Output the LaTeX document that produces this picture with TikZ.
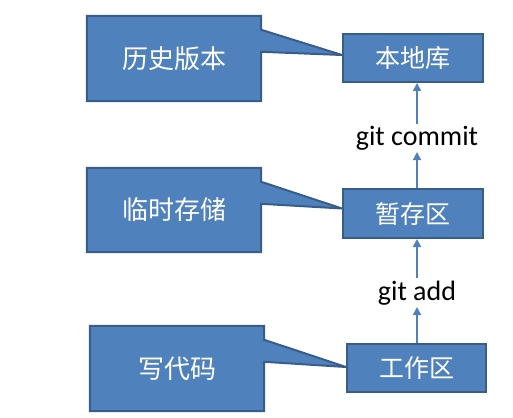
\documentclass[tikz,border=0pt]{standalone}
\usepackage{fontspec}
\setmainfont{Carlito}
\newfontfamily\cjk{Noto Sans CJK SC}
\usetikzlibrary{arrows.meta,backgrounds}
\definecolor{boxfill}{HTML}{4F81BD}
\definecolor{boxline}{HTML}{385D8A}

\begin{document}
\begin{tikzpicture}[x=1pt,y=-1pt,
    area/.style={draw=boxline,line width=2pt,fill=boxfill,text=white,
      font=\cjk\fontsize{25}{28}\selectfont,minimum width=140pt,minimum height=48pt,inner sep=0},
    note/.style={text=white,font=\cjk\fontsize{26}{30}\selectfont,
      minimum width=174pt,minimum height=85pt,inner sep=0},
    bubble/.style={draw=boxline,line width=2pt,fill=boxfill,line join=miter},
    cmd/.style={font=\fontsize{28}{32}\selectfont,anchor=base,inner sep=2pt},
    flow/.style={draw=boxfill,line width=1.6pt,-{Triangle[length=8pt,width=8pt]}}]
    \useasboundingbox (0,0) rectangle (513,417);

    \node[area] (lib) at (413,58) {本地库};
    \node[area,minimum height=49pt] (stage) at (413,213.5) {暂存区};
    \node[area,minimum width=139pt] (work) at (416.5,368) {工作区};

    \node[note] (hist) at (174,58.5) {历史版本};
    \node[note,minimum height=84pt] (tmp) at (174,210) {临时存储};
    \node[note] (code) at (177,368.5) {写代码};

    \node[cmd] (commit) at (417,145) {git commit};
    \node[cmd] (add) at (417,300) {git add};

    \begin{scope}[on background layer]
      \foreach \n/\t/\s in {hist/lib/3,tmp/stage/5,code/work/1} {
        \path[bubble] (\n.north west) -- (\n.north east) -- ([yshift=-14pt]\n.north east)
          -- ([yshift=\s pt]\t.west) -- ([yshift=-36pt]\n.north east)
          -- (\n.south east) -- (\n.south west) -- cycle;
      }
    \end{scope}

    \draw[flow] (work.north -| add) -- (add);
    \draw[flow] (add) -- (stage.south -| add);
    \draw[flow] (stage.north -| commit) -- (commit);
    \draw[flow] (commit) -- (lib.south -| commit);
\end{tikzpicture}
\end{document}
